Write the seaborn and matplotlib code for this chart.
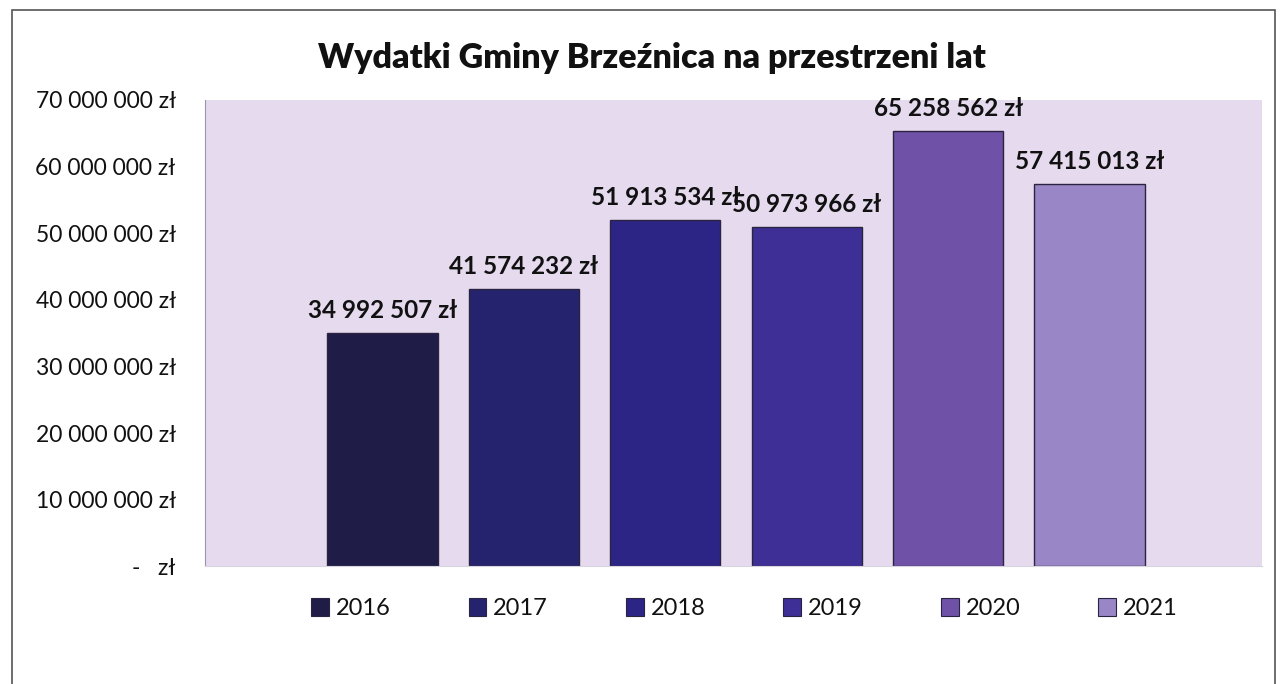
import matplotlib
matplotlib.use('Agg')
import matplotlib.pyplot as plt
import pandas as pd
import seaborn as sns
from matplotlib.patches import Patch, Rectangle

# Data
years = ['2016', '2017', '2018', '2019', '2020', '2021']
expenses = [34992507, 41574232, 51913534, 50973966, 65258562, 57415013]
bar_colors = ['#201c48', '#25236e', '#2c2586', '#3d2f96', '#6f52a8', '#9886c6']
y_ticks = [0, 10000000, 20000000, 30000000, 40000000, 50000000, 60000000, 70000000]

df = pd.DataFrame({'year': years, 'value': expenses})


def fmt_zl(v):
    if v == 0:
        return '-   zł'
    return f'{v:,}'.replace(',', ' ') + ' zł'


sns.set_style('white')
plt.rcParams['font.family'] = ['Lato', 'DejaVu Sans']
plt.rcParams['text.color'] = '#111111'

fig = plt.figure(figsize=(12.88, 6.84), dpi=100)
ax = fig.add_axes([0.159, 0.172, 0.821, 0.682])

sns.barplot(data=df, ax=ax, x='year', y='value', hue='year',
            palette=bar_colors, width=0.78, edgecolor='#2a2440',
            linewidth=1.0, saturation=1, legend=False)

ax.set_facecolor('#e6daef')
ax.set_xlim(-1.255, 6.22)
ax.set_ylim(0, 70000000)
ax.set_yticks(y_ticks)
ax.set_yticklabels([fmt_zl(t) for t in y_ticks], fontsize=16.5, color='#111111')
ax.tick_params(axis='y', length=0, pad=21)
ax.set_xticks([])
ax.set(xlabel='', ylabel='')

for s in ['top', 'right']:
    ax.spines[s].set_visible(False)
ax.spines['left'].set_color('#9a96a8')
ax.spines['bottom'].set_color('#d8d4e0')

# Data labels above the bars
for i, v in enumerate(expenses):
    ax.annotate(fmt_zl(v), (i, v), xytext=(0, 8), textcoords='offset points',
                ha='center', va='bottom', fontsize=17.5, fontweight='bold')

fig.text(0.506, 0.915, 'Wydatki Gminy Brzeźnica na przestrzeni lat',
         ha='center', va='center', fontsize=24.5, fontweight='heavy')

handles = [Patch(facecolor=c, edgecolor='#2a2440', linewidth=0.8) for c in bar_colors]
fig.legend(handles, years, loc='center', bbox_to_anchor=(0.578, 0.110),
           ncol=6, frameon=False, fontsize=17, handlelength=0.75,
           handleheight=0.75, handletextpad=0.3, columnspacing=3.3)

# Chart frame
fig.patches.append(Rectangle((0.009, -0.05), 0.981, 1.035, transform=fig.transFigure,
                             fill=False, edgecolor='#555555', linewidth=1.2))

fig.savefig('out.png', dpi=100)
